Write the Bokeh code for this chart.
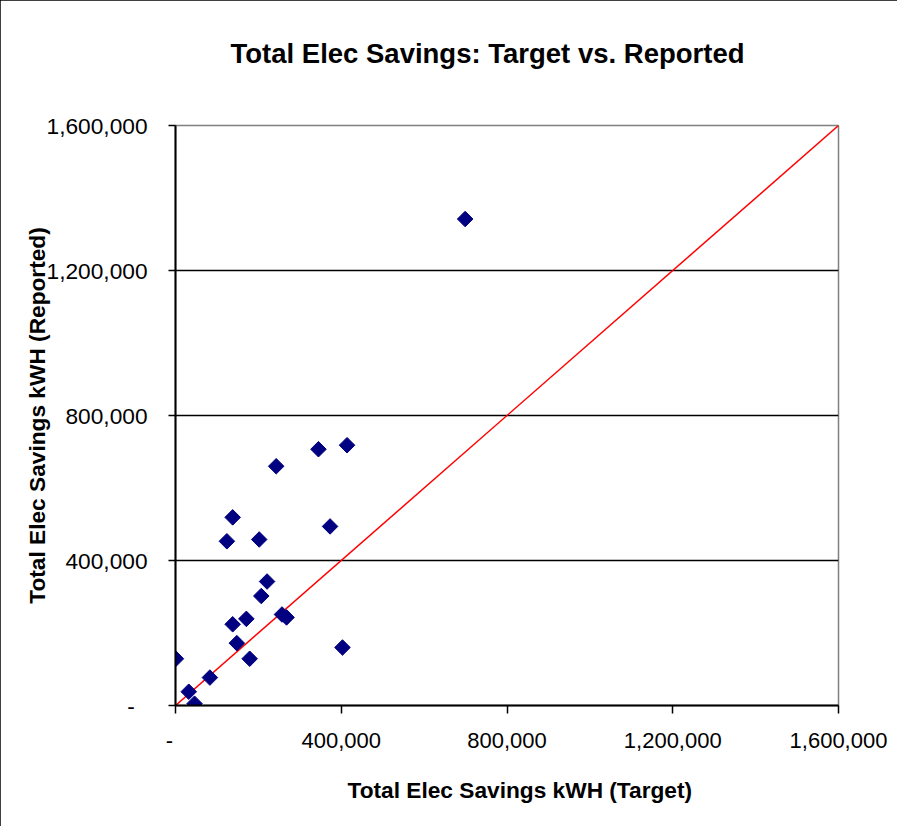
import math
from bokeh.plotting import figure
from bokeh.models import Range1d, FixedTicker, Title
from bokeh.embed import file_html
from bokeh.resources import INLINE

# Data (kWh)
target = [414000, 345000, 243000, 138000, 124000, 202000, 373000, 221000, 207000,
          171000, 138000, 257000, 268000, 148000, 179000, 403000, 1000, 83000,
          32000, 46000, 699000]
reported = [718000, 707000, 660000, 519000, 453000, 458000, 494000, 342000, 302000,
            239000, 224000, 251000, 243000, 172000, 129000, 160000, 129000, 77000,
            38000, 5000, 1342000]

# 1:1 reference line (target = reported)
diag = [0, 1600000]

tick_values = [0, 400000, 800000, 1200000, 1600000]
tick_labels = ["-\u00a0\u00a0", "400,000", "800,000", "1,200,000", "1,600,000"]

title_text = "Total Elec Savings: Target vs. Reported"
x_label = "Total Elec Savings kWH (Target)"
y_label = "Total Elec Savings kWH (Reported)"

FONT = "Liberation Sans"

p = figure(width=897, height=826, output_backend="svg", toolbar_location=None,
           x_range=Range1d(0, 1600000), y_range=Range1d(0, 1600000),
           min_border_left=175, min_border_right=59, min_border_top=125,
           min_border_bottom=121)
p.styles = {"outline": "1px solid #000000", "outline-offset": "-1px"}
p.background_fill_color = "white"
p.border_fill_color = "white"
p.outline_line_color = "#808080"
p.outline_line_width = 1.5

# Titles: spacer first (nearest the frame), then main title
spacer = Title(text="\u00a0", text_font_size="10px", standoff=42, text_color="white")
p.add_layout(spacer, "above")
main_title = Title(text=title_text, align="left", offset=55, standoff=0,
                   vertical_align="top", text_font=FONT, text_font_size="27.5px",
                   text_font_style="bold", text_color="black")
p.add_layout(main_title, "above")

# X-axis label as a title below the axis
xl = Title(text=x_label, align="left", offset=172, standoff=39,
           vertical_align="bottom", text_font=FONT, text_font_size="22.7px",
           text_font_style="bold", text_color="black")
p.add_layout(xl, "below")

labels = dict(zip(tick_values, tick_labels))
for ax in (p.xaxis[0], p.yaxis[0]):
    ax.ticker = FixedTicker(ticks=tick_values)
    ax.major_label_overrides = labels
    ax.minor_tick_line_color = None
    ax.major_tick_in = 0
    ax.axis_line_color = "black"
    ax.axis_line_width = 2
    ax.major_tick_line_color = "black"
    ax.major_tick_line_width = 1.5
    ax.major_label_text_font = FONT
    ax.major_label_text_color = "black"

p.xaxis.major_tick_out = 8
p.xaxis.major_label_standoff = 14
p.xaxis.major_label_text_font_size = "22px"

p.yaxis.major_tick_out = 7
p.yaxis.major_label_standoff = 21
p.yaxis.major_label_text_font_size = "22.7px"
p.yaxis.axis_label = y_label
p.yaxis.axis_label_text_font = FONT
p.yaxis.axis_label_text_font_size = "22.7px"
p.yaxis.axis_label_text_font_style = "bold"
p.yaxis.axis_label_text_color = "black"
p.yaxis.axis_label_standoff = -6

p.xgrid.visible = False
p.ygrid.ticker = FixedTicker(ticks=tick_values)
p.ygrid.grid_line_color = "black"
p.ygrid.grid_line_width = 1.5

p.line(diag, diag, line_color="#FF0000", line_width=1.5)
p.scatter(target, reported, marker="square", angle=math.pi / 4, size=11,
          fill_color="#000080", line_color="#000080")

open("out.html", "w").write(file_html(p, INLINE))
